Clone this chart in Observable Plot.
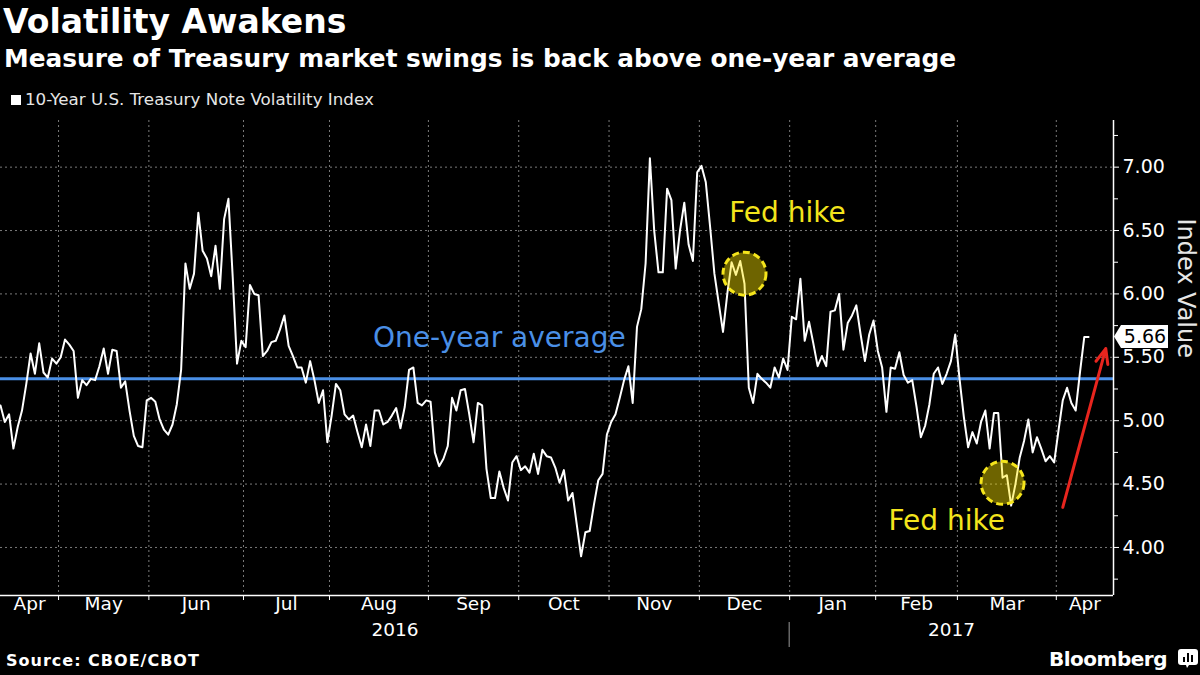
<!DOCTYPE html>
<html>
<head>
<meta charset="utf-8">
<script src="https://cdn.jsdelivr.net/npm/d3@7"></script>
<script src="https://cdn.jsdelivr.net/npm/@observablehq/plot@0.6"></script>
<style>
  html, body { margin: 0; padding: 0; background: #000; }
  body { width: 1200px; height: 675px; overflow: hidden; position: relative; color: #fff; font-family: "DejaVu Sans", sans-serif; }
  #title { position: absolute; left: 3px; top: 5px; font-weight: bold; font-size: 33px; line-height: 33px; white-space: nowrap; }
  #subtitle { position: absolute; left: 4px; top: 46px; font-weight: bold; font-size: 24.8px; line-height: 25px; white-space: nowrap; }
  #legend { position: absolute; left: 25px; top: 91px; font-size: 16.7px; line-height: 17px; color: #e6e6e6; white-space: nowrap; }
  #swatch { position: absolute; left: 11px; top: 95px; width: 10px; height: 10px; background: #fff; }
  #chart { position: absolute; left: 0; top: 112px; }
  #source { position: absolute; left: 6px; top: 653px; font-weight: bold; font-size: 16px; line-height: 16px; letter-spacing: 1px; white-space: nowrap; }
  #brand { position: absolute; left: 1049px; top: 649px; font-weight: bold; font-size: 20px; line-height: 20px; letter-spacing: -0.5px; white-space: nowrap; }
  #logo { position: absolute; left: 1178px; top: 649px; }
</style>
</head>
<body>
<div id="title">Volatility Awakens</div>
<div id="subtitle">Measure of Treasury market swings is back above one-year average</div>
<div id="swatch"></div>
<div id="legend">10-Year U.S. Treasury Note Volatility Index</div>
<div id="chart"></div>
<div id="source">Source: CBOE/CBOT</div>
<div id="brand">Bloomberg</div>
<svg id="logo" width="20" height="20" viewBox="0 0 20 20">
  <path d="M3,0 H17 Q20,0 20,3 V13 Q20,16 17,16 H11 L9,19 L8,16 H3 Q0,16 0,13 V3 Q0,0 3,0 Z" fill="#fff"/>
  <rect x="5" y="8" width="2" height="5" fill="#000"/>
  <rect x="9" y="4" width="2" height="9" fill="#000"/>
  <rect x="13" y="6" width="2" height="7" fill="#000"/>
</svg>
<script>
// ---- Data ----
const firstDay = "2016-04-12";
const calendarEnd = "2017-04-21";
const marketHolidays = ["2016-05-30", "2016-07-04", "2016-09-05", "2016-11-24", "2016-12-26",
                        "2017-01-02", "2017-01-16", "2017-02-20", "2017-04-14"];

// 10-Year U.S. Treasury Note Volatility Index, one value per trading day from 2016-04-12
const values = [
  5.12, 4.99, 5.05, 4.78, 4.95, 5.08, 5.29, 5.53, 5.37, 5.61,
  5.38, 5.34, 5.49, 5.45, 5.50, 5.64, 5.60, 5.55, 5.18, 5.32,
  5.28, 5.33, 5.32, 5.43, 5.57, 5.37, 5.56, 5.55, 5.26, 5.31,
  5.08, 4.88, 4.80, 4.79, 5.16, 5.18, 5.15, 5.01, 4.93, 4.89,
  4.97, 5.13, 5.40, 6.24, 6.04, 6.16, 6.64, 6.34, 6.28, 6.14,
  6.38, 6.04, 6.59, 6.75, 6.13, 5.45, 5.63, 5.58, 6.07, 6.00,
  5.99, 5.51, 5.55, 5.62, 5.63, 5.72, 5.83, 5.59, 5.51, 5.42,
  5.42, 5.30, 5.47, 5.32, 5.14, 5.24, 4.83, 5.04, 5.29, 5.24,
  5.05, 5.01, 5.04, 4.91, 4.79, 4.97, 4.80, 5.08, 5.08, 4.97,
  4.99, 5.04, 5.10, 4.94, 5.11, 5.40, 5.42, 5.14, 5.12, 5.16,
  5.15, 4.75, 4.64, 4.70, 4.80, 5.18, 5.08, 5.24, 5.25, 5.05,
  4.83, 5.14, 5.12, 4.62, 4.39, 4.39, 4.60, 4.47, 4.37, 4.67,
  4.72, 4.61, 4.64, 4.59, 4.74, 4.58, 4.77, 4.72, 4.71, 4.63,
  4.51, 4.61, 4.37, 4.43, 4.18, 3.93, 4.12, 4.13, 4.34, 4.53,
  4.58, 4.89, 4.99, 5.05, 5.18, 5.32, 5.43, 5.14, 5.74, 5.88,
  6.24, 7.07, 6.50, 6.17, 6.17, 6.83, 6.74, 6.20, 6.50, 6.72,
  6.39, 6.26, 6.96, 7.01, 6.88, 6.53, 6.16, 5.93, 5.70, 6.00,
  6.25, 6.15, 6.26, 6.08, 5.26, 5.14, 5.37, 5.33, 5.30, 5.26,
  5.42, 5.34, 5.49, 5.40, 5.82, 5.80, 6.12, 5.63, 5.78, 5.61,
  5.43, 5.51, 5.43, 5.86, 5.87, 6.00, 5.56, 5.77, 5.83, 5.91,
  5.68, 5.47, 5.68, 5.79, 5.55, 5.42, 5.07, 5.42, 5.41, 5.54,
  5.36, 5.30, 5.32, 5.11, 4.87, 4.96, 5.13, 5.37, 5.42, 5.29,
  5.37, 5.47, 5.68, 5.33, 5.03, 4.79, 4.91, 4.82, 4.99, 5.08,
  4.78, 5.06, 5.06, 4.55, 4.57, 4.33, 4.50, 4.71, 4.84, 5.01,
  4.75, 4.87, 4.78, 4.68, 4.72, 4.67, 4.92, 5.16, 5.26, 5.14,
  5.08, 5.38, 5.66, 5.66
];

const oneYearAverage = 5.33;
const yTicks = [4.0, 4.5, 5.0, 5.5, 6.0, 6.5, 7.0];
const yMinorTicks = [3.75, 4.25, 4.75, 5.25, 5.75, 6.25, 6.75, 7.25];
const yDomain = [3.621, 7.368];
const visibleTradingDays = 258.8;

const averageLabel = [{date: "2016-09-26", value: 5.65, text: "One-year average"}];
const fedHikeLabels = [
  {date: "2016-12-30", value: 6.635, text: "Fed hike"},
  {date: "2017-02-24", value: 4.21, text: "Fed hike"}
];
const fedHikeCircles = [
  {date: "2016-12-15", value: 6.16},
  {date: "2017-03-15", value: 4.51}
];
const riseArrow = [{from: "2017-04-04", fromValue: 4.316, to: "2017-04-19", toValue: 5.569}];

// ---- Trading-day calendar (x axis is indexed by trading day) ----
function tradingCalendar(start, end, holidays) {
  const hol = new Set(holidays), out = [];
  const d = new Date(start + "T00:00:00Z"), e = new Date(end + "T00:00:00Z");
  for (; d <= e; d.setUTCDate(d.getUTCDate() + 1)) {
    const wd = d.getUTCDay(), iso = d.toISOString().slice(0, 10);
    if (wd !== 0 && wd !== 6 && !hol.has(iso)) out.push(iso);
  }
  return out;
}
const calendar = tradingCalendar(firstDay, calendarEnd, marketHolidays);
const dayIndex = new Map(calendar.map((d, i) => [d, i]));
const series = values.map((v, i) => ({date: calendar[i], idx: i, value: v}));
const xDomain = [0, visibleTradingDays];

// month groups
const months = d3.groups(calendar.map((d, i) => ({d, i})), o => o.d.slice(0, 7));
const monthBoundaries = months.slice(1).map(([, arr]) => arr[0].i - 0.5);
const monthLabels = months.map(([key, arr]) => {
  const a = Math.max(xDomain[0], arr[0].i - 0.5), b = Math.min(xDomain[1], arr[arr.length - 1].i + 0.5);
  return {x: (a + b) / 2, label: d3.utcFormat("%b")(new Date(key + "-01T00:00:00Z"))};
});
const years = d3.groups(calendar.map((d, i) => ({d, i})), o => o.d.slice(0, 4));
const yearLabels = years.map(([key, arr]) => {
  const a = Math.max(xDomain[0], arr[0].i - 0.5), b = Math.min(xDomain[1], arr[arr.length - 1].i + 0.5);
  return {x: (a + b) / 2, label: key};
});
const yearBoundary = years[1][1][0].i - 0.5;
const lastValue = values[values.length - 1];

const X = d => dayIndex.get(d.date);

const plot = Plot.plot({
  width: 1200,
  height: 538,
  marginLeft: 0,
  marginRight: 87,
  marginTop: 8,
  marginBottom: 55,
  style: {background: "#000", color: "#fff", fontFamily: "'DejaVu Sans', sans-serif", overflow: "visible"},
  x: {type: "linear", domain: xDomain, axis: null},
  y: {type: "linear", domain: yDomain, axis: null},
  marks: [
    Plot.ruleY(yTicks, {stroke: "#7a7a7a", strokeDasharray: "2,3", strokeWidth: 1}),
    Plot.ruleX(monthBoundaries, {stroke: "#7a7a7a", strokeDasharray: "2,3", strokeWidth: 1}),
    Plot.ruleY([oneYearAverage], {stroke: "#4a8fe6", strokeWidth: 3}),
    Plot.line(series, {x: "idx", y: "value", stroke: "#fff", strokeWidth: 2}),
    Plot.dot(fedHikeCircles, {x: X, y: "value", r: 21.5, fill: "#ffe800", fillOpacity: 0.43,
      stroke: "#f5e51c", strokeWidth: 3, strokeDasharray: "7,4"}),
    Plot.text(averageLabel, {x: X, y: "value", text: "text", fill: "#4a8fe6", fontSize: 28}),
    Plot.text(fedHikeLabels, {x: X, y: "value", text: "text", fill: "#f3e41c", fontSize: 28}),
    Plot.arrow(riseArrow, {x1: d => dayIndex.get(d.from), y1: "fromValue", x2: d => dayIndex.get(d.to), y2: "toValue",
      stroke: "#e8251e", strokeWidth: 3, headLength: 8, headAngle: 45}),
    // frame lines
    Plot.ruleY([yDomain[0]], {stroke: "#fff", strokeWidth: 1.5}),
    Plot.ruleX([xDomain[1]], {stroke: "#fff", strokeWidth: 1.5}),
    // axes
    Plot.axisX(monthBoundaries, {tickSize: 5, tickFormat: () => ""}),
    Plot.text(monthLabels, {x: "x", text: "label", frameAnchor: "bottom", dy: 14, fill: "#fff", fontSize: 18.5}),
    Plot.text(yearLabels, {x: "x", text: "label", frameAnchor: "bottom", dy: 40, fill: "#fff", fontSize: 18.5}),
    Plot.axisY(yTicks, {anchor: "right", tickSize: 5, tickPadding: 4, tickFormat: d3.format(".2f"), fontSize: 19}),
    Plot.axisY(yMinorTicks, {anchor: "right", tickSize: 4, tickFormat: () => ""}),
    Plot.text(["Index Value"], {frameAnchor: "right", rotate: 90, dx: 72, fill: "#e6e6e6", fontSize: 24})
  ]
});

document.getElementById("chart").appendChild(plot);

// last-value tag and year separator, positioned with Plot's own scales
const svg = d3.select(plot);
const xs = plot.scale("x"), ys = plot.scale("y");
const xr = xs.apply(xDomain[1]);
const yv = ys.apply(lastValue);
svg.append("path")
  .attr("d", `M${xr + 1},${yv} L${xr + 8},${yv - 11.5} H${xr + 55} V${yv + 11.5} H${xr + 8} Z`)
  .attr("fill", "#fff");
svg.append("text")
  .attr("x", xr + 32).attr("y", yv).attr("dy", "0.36em")
  .attr("text-anchor", "middle").attr("fill", "#000")
  .attr("font-size", 19).attr("font-family", "'DejaVu Sans', sans-serif")
  .text(d3.format(".2f")(lastValue));
const yb = ys.apply(yDomain[0]);
const xb = xs.apply(yearBoundary);
svg.append("line")
  .attr("x1", xb).attr("x2", xb).attr("y1", yb + 27).attr("y2", yb + 52)
  .attr("stroke", "#9a9a9a").attr("stroke-width", 1);
</script>
</body>
</html>
